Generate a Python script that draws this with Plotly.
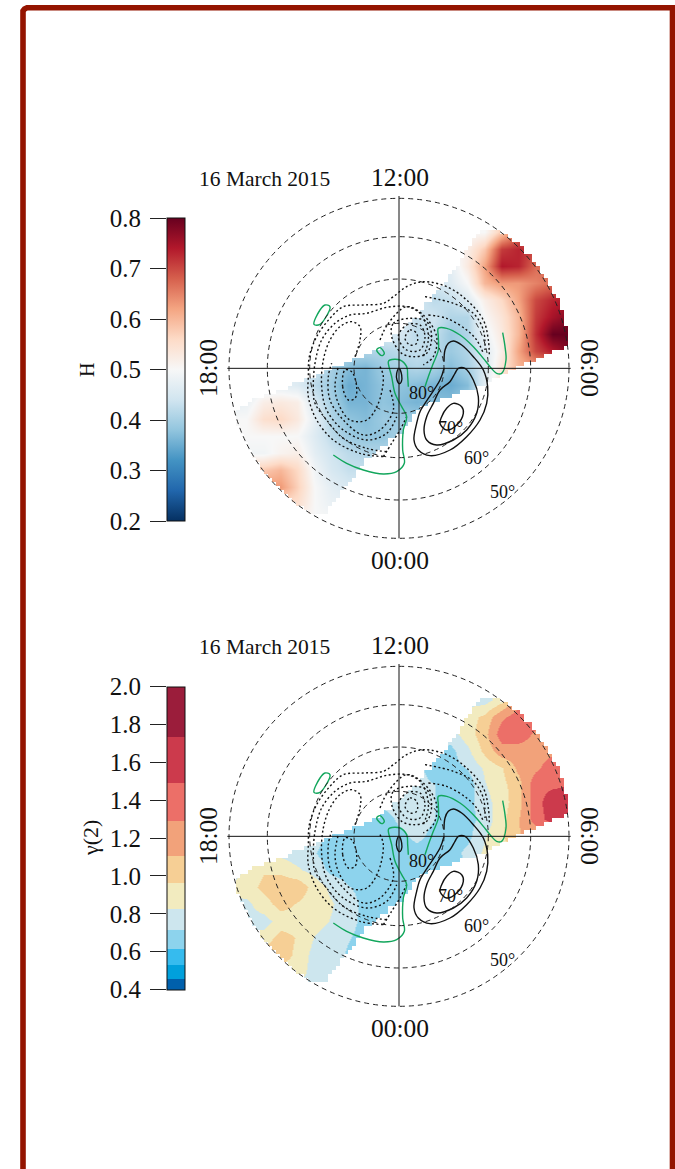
import math
import plotly.graph_objects as go

# ---------- map grid (map units: panel x/y, y downwards) ----------
GRID_X = [27,78,129,180,231,282,333,384,435,486,537,588,639,690,741,792,843,894,945,996,1047]
GRID_Y = [25,76,127,178,229,280,331,382,433,484,535,586,637,688,739,790,841,892,943,994,1045]

H_VALUES = [
[.50,.50,.50,.50,.50,.50,.50,.50,.50,.50,.50,.50,.50,.50,.50,.50,.55,.60,.65,.65,.65],
[.50,.50,.50,.50,.50,.50,.50,.50,.50,.50,.50,.50,.50,.50,.50,.50,.56,.62,.66,.66,.66],
[.50,.50,.50,.50,.50,.50,.50,.50,.50,.50,.50,.50,.50,.50,.50,.50,.58,.66,.68,.68,.68],
[.50,.50,.50,.50,.50,.50,.50,.50,.50,.50,.50,.50,.50,.50,.52,.58,.71,.73,.70,.68,.68],
[.47,.47,.47,.47,.47,.47,.47,.47,.47,.47,.47,.47,.47,.47,.53,.62,.74,.73,.67,.66,.66],
[.45,.45,.45,.45,.45,.45,.45,.45,.45,.45,.45,.45,.44,.46,.50,.60,.63,.63,.65,.67,.67],
[.46,.46,.46,.46,.46,.46,.46,.46,.46,.46,.46,.45,.42,.43,.46,.52,.56,.62,.70,.73,.74],
[.46,.46,.46,.46,.46,.46,.46,.46,.46,.46,.46,.43,.44,.41,.41,.50,.54,.60,.71,.75,.78],
[.45,.45,.45,.45,.45,.45,.45,.45,.45,.45,.45,.42,.43,.39,.41,.48,.53,.60,.72,.80,.80],
[.44,.44,.44,.44,.44,.44,.44,.41,.41,.41,.42,.43,.42,.39,.41,.46,.52,.62,.70,.74,.78],
[.46,.46,.46,.46,.46,.44,.40,.37,.36,.39,.40,.41,.40,.37,.40,.45,.54,.60,.62,.62,.62],
[.47,.47,.47,.47,.46,.42,.39,.35,.36,.38,.38,.37,.36,.35,.37,.47,.54,.56,.56,.56,.56],
[.47,.48,.52,.53,.52,.45,.40,.36,.36,.38,.37,.36,.37,.37,.40,.47,.50,.50,.50,.50,.50],
[.50,.50,.55,.56,.53,.47,.41,.38,.37,.39,.39,.39,.40,.40,.40,.47,.50,.50,.50,.50,.50],
[.50,.50,.50,.50,.50,.46,.42,.39,.38,.38,.40,.41,.41,.41,.41,.47,.50,.50,.50,.50,.50],
[.49,.49,.49,.51,.52,.47,.44,.42,.41,.41,.42,.42,.42,.42,.42,.47,.50,.50,.50,.50,.50],
[.57,.57,.58,.60,.56,.49,.45,.43,.43,.43,.43,.43,.43,.43,.43,.47,.50,.50,.50,.50,.50],
[.63,.63,.63,.63,.57,.50,.47,.45,.45,.45,.45,.45,.45,.45,.45,.47,.50,.50,.50,.50,.50],
[.55,.55,.55,.55,.55,.50,.48,.48,.48,.48,.48,.48,.48,.48,.48,.48,.50,.50,.50,.50,.50],
[.50,.50,.50,.50,.50,.50,.50,.50,.50,.50,.50,.50,.50,.50,.50,.50,.50,.50,.50,.50,.50],
[.50,.50,.50,.50,.50,.50,.50,.50,.50,.50,.50,.50,.50,.50,.50,.50,.50,.50,.50,.50,.50],
]

GAMMA_VALUES = [
[.77,.77,.77,.77,.77,.77,.77,.77,.77,.77,.77,.77,.77,.77,.77,.77,.85,1.1,1.2,1.2,1.2],
[.77,.77,.77,.77,.77,.77,.77,.77,.77,.77,.77,.77,.77,.77,.77,.77,.88,1.15,1.25,1.25,1.25],
[.77,.77,.77,.77,.77,.77,.77,.77,.77,.77,.77,.77,.77,.77,.77,.77,.90,1.20,1.30,1.30,1.30],
[.77,.77,.77,.77,.77,.77,.77,.77,.77,.77,.77,.77,.77,.80,.90,1.00,1.25,1.40,1.40,1.35,1.35],
[.76,.76,.76,.76,.76,.76,.76,.76,.76,.76,.76,.76,.76,.77,.90,1.05,1.40,1.40,1.25,1.20,1.20],
[.74,.74,.74,.74,.74,.74,.74,.74,.74,.74,.74,.74,.72,.68,.80,1.00,1.20,1.20,1.20,1.25,1.25],
[.75,.75,.75,.75,.75,.75,.75,.75,.75,.75,.75,.75,.66,.68,.72,.85,.95,1.15,1.25,1.40,1.40],
[.76,.76,.76,.76,.76,.76,.76,.76,.76,.76,.77,.75,.72,.65,.65,.82,.92,1.05,1.42,1.45,1.50],
[.75,.75,.75,.75,.75,.75,.75,.75,.75,.75,.77,.77,.72,.66,.68,.78,.90,1.05,1.40,1.65,1.65],
[.70,.70,.70,.70,.70,.70,.70,.68,.68,.66,.74,.77,.72,.66,.68,.75,.92,1.10,1.38,1.60,1.60],
[.77,.77,.77,.77,.77,.77,.66,.66,.64,.66,.68,.75,.68,.66,.68,.82,.95,1.10,1.15,1.15,1.15],
[.80,.80,.80,.80,.76,.72,.66,.64,.65,.66,.66,.66,.66,.66,.75,.85,.90,.90,.90,.90,.90],
[.77,.84,.95,.92,.85,.78,.68,.66,.65,.66,.66,.66,.66,.66,.70,.75,.75,.75,.75,.75,.75],
[.84,.90,1.00,1.08,1.06,.90,.80,.72,.68,.66,.66,.68,.68,.68,.70,.75,.75,.75,.75,.75,.75],
[.80,.80,.90,1.02,.95,.88,.84,.76,.68,.66,.70,.70,.70,.70,.70,.75,.75,.75,.75,.75,.75],
[.78,.78,.78,.88,.90,.88,.82,.75,.68,.68,.70,.70,.70,.70,.70,.75,.75,.75,.75,.75,.75],
[.88,.88,.88,1.03,.95,.82,.76,.72,.68,.68,.70,.70,.70,.70,.70,.75,.75,.75,.75,.75,.75],
[1.05,1.05,1.05,1.05,.92,.78,.76,.70,.70,.70,.70,.70,.70,.70,.70,.75,.75,.75,.75,.75,.75],
[.88,.88,.88,.88,.88,.78,.76,.74,.74,.74,.74,.74,.74,.74,.74,.75,.75,.75,.75,.75,.75],
[.80,.80,.80,.80,.80,.78,.76,.76,.76,.76,.76,.76,.76,.76,.76,.76,.76,.76,.76,.76,.76],
[.80,.80,.80,.80,.80,.78,.76,.76,.76,.76,.76,.76,.76,.76,.76,.76,.76,.76,.76,.76,.76],
]

# footprint of the measurements
BAND_X = [790,825,850,880,910,945,970,1000,1025,1035,1045,1045,995,935,880,830,790,720,650,600,580,555,510,470,430,410,365,320,318,265,210,150,110,75,45,45,100,200,265,330,400,470,530,590,615,670,690,720,740,770]
BAND_Y = [115,122,130,155,180,225,260,310,355,400,440,470,490,515,540,568,590,608,635,655,680,720,755,790,815,860,910,965,980,965,920,860,810,750,680,655,630,590,565,535,510,480,430,380,340,280,250,210,170,130]
CELL = 12  # footprint edge stair size, map units

# ---------- contour lines ----------
SOLID = [
 ([672,675,685,700,725,760,790,803,800,780,740,690,630,595,582,590,600,615,660,672],
  [515,480,460,453,465,500,540,590,640,690,740,780,797,780,750,700,665,640,570,535]),
 ([715,735,760,775,770,740,700,650,620,612,620,640,660,690,705,715],
  [535,535,570,620,670,720,750,765,750,720,680,640,600,575,550,535]),
 ([700,725,730,710,680,660,665,680,700],
  [640,650,670,705,720,700,680,655,640]),
 ([537,545,544,538,531,530,537],
  [535,555,575,581,570,550,535]),
]
GREEN = [
 ([282,300,330,315,300,282],[403,403,350,345,360,403]),
 ([470,480,493,485,470],[480,473,490,497,480]),
 ([615,625,640,655,655,655,680,720,760,790,810,830,845,858,855,848],
  [590,560,520,480,440,415,415,435,470,505,530,550,550,510,470,428]),
 ([565,563,560,540,510,505,515,525,545,560,550,548,553,530,490,430,380,340],
  [590,560,530,510,510,515,560,610,650,680,720,780,820,845,852,840,820,795]),
]
DOTTED = [
 ([490,420,340,290,265,265,268,290,330,370,430,490,520,560,610,680,740,790,805,808],
  [800,790,750,690,620,560,500,440,385,350,345,340,320,290,275,290,330,390,450,500]),
 ([500,440,370,320,285,280,285,305,345,390,440,500,560,600,620,625,610],
  [785,775,745,690,640,600,520,450,400,375,370,352,350,370,410,450,500]),
 ([405,420,420,395,360,330,310,305,320,370,440,500,530],
  [500,450,410,395,410,450,510,590,660,720,750,730,680]),
 ([510,520,480,430,370,330,325,335],
  [600,660,720,735,690,630,560,520]),
 ([480,490,475,440,390,355,345,355],
  [530,560,640,690,690,640,590,530]),
 ([375,368,385,405,410,395,375],[540,590,630,625,590,545,540]),
 ([555,570,590,590,570,555],[445,420,430,460,465,445]),
 ([535,560,600,615,600,560,535],[440,405,405,440,480,480,440]),
 ([515,520,570,620,635,620,580,545,515],[440,400,385,395,440,490,500,490,440]),
 ([480,505,560,610,650,640,610],[450,400,350,375,440,500,525]),
 ([625,680,740,770,790],[375,385,420,450,490]),
 ([615,700,760,790,795],[320,340,370,420,480]),
 ([490,515,540,560],[800,760,720,680]),
]

# ---------- colour scales ----------
H_COLOURS = ["#053061","#2166ac","#4393c3","#92c5de","#d1e5f0","#f7f7f7","#fddbc7","#f4a582","#d6604d","#b2182b","#67001f"]
GAMMA_EDGES = [0.4,0.457,0.534,0.617,0.715,0.83,0.963,1.11,1.29,1.495,1.734,2.0]
GAMMA_COLOURS = ["#0060ac","#00a0dc","#36bbee","#8dd3ed","#cde6ee","#f2ebbf","#f6cf95","#f2a27a","#ec6f68","#cc3a4c","#9b1d3b"]
H_TICKS = [0.2,0.3,0.4,0.5,0.6,0.7,0.8]
GAMMA_TICKS = [0.4,0.6,0.8,1.0,1.2,1.4,1.6,1.8,2.0]

DATE = "16 March 2015"
MLT_LABELS = ["12:00","00:00","18:00","06:00"]
LAT_LABELS = ["80°","70°","60°","50°"]
LAT_POS_X = [605,690,768,848]
LAT_POS_Y = [610,715,805,905]
LAT_RADII = [135,268,395,510]
CENTER_X, CENTER_Y = 537, 535

W, H = 675, 1169
SERIF = "Liberation Serif"
px = lambda v: v / W
py = lambda v: 1 - v / H

h_scale = [[i / (len(H_COLOURS) - 1), c] for i, c in enumerate(H_COLOURS)]
g_scale = []
for i, c in enumerate(GAMMA_COLOURS):
    g_scale.append([(GAMMA_EDGES[i] - 0.4) / 1.6, c])
    g_scale.append([(GAMMA_EDGES[i + 1] - 0.4) / 1.6, c])

def stair(xs, ys):
    """Snap the footprint outline to the data-cell stair of the map."""
    ox, oy = [], []
    n = len(xs)
    for i in range(n):
        x0, y0, x1, y1 = xs[i], ys[i], xs[(i + 1) % n], ys[(i + 1) % n]
        steps = max(1, math.ceil(math.hypot(x1 - x0, y1 - y0) / CELL))
        for k in range(steps):
            sx = round((x0 + (x1 - x0) * k / steps) / CELL) * CELL
            sy = round((y0 + (y1 - y0) * k / steps) / CELL) * CELL
            if not ox or (sx, sy) != (ox[-1], oy[-1]):
                ox.append(sx)
                oy.append(sy)
    return ox + ox[:1], oy + oy[:1]

fig = go.Figure()
shapes, annotations = [], []

def text(x, y, s, size, angle=0, anchor="center"):
    annotations.append(dict(xref="paper", yref="paper", x=px(x), y=py(y), text=s, showarrow=False,
                            font=dict(family=SERIF, size=size, color="#111"), textangle=angle,
                            xanchor=anchor, yanchor="middle"))

def panel(idx, z, zmin, zmax, scale, ticks, title, top_offset, cb_top, cb_len):
    xa, ya = ("x", "y") if idx == 1 else ("x2", "y2")
    fig.add_trace(go.Heatmap(x=GRID_X, y=GRID_Y[::-1], z=z[::-1], zmin=zmin, zmax=zmax, colorscale=scale,
                             zsmooth="best", xaxis=xa, yaxis=ya, hoverinfo="skip",
                             colorbar=dict(x=px(167), xanchor="left", xpad=0, y=py(cb_top), yanchor="top", ypad=0,
                                           thickness=18, thicknessmode="pixels", len=cb_len, lenmode="pixels",
                                           outlinecolor="#111", outlinewidth=1, ticks="", showticklabels=False)))
    # white cover outside the measured footprint
    bx, by = stair(BAND_X, BAND_Y)
    mx = [-10, -10, 1090, 1090, -10, None] + bx
    my = [-10, 1085, 1085, -10, -10, None] + by
    fig.add_trace(go.Scatter(x=mx, y=my, mode="lines", fill="toself", fillcolor="white",
                             line=dict(width=0, shape="hv"),
                             xaxis=xa, yaxis=ya, hoverinfo="skip", showlegend=False))
    for cx, cy in DOTTED:
        fig.add_trace(go.Scatter(x=cx, y=cy, mode="lines", line=dict(color="#111", width=1.4, dash="2px,2.5px", shape="spline"),
                                 xaxis=xa, yaxis=ya, hoverinfo="skip", showlegend=False))
    for cx, cy in SOLID:
        fig.add_trace(go.Scatter(x=cx, y=cy, mode="lines", line=dict(color="#111", width=1.4, shape="spline"),
                                 xaxis=xa, yaxis=ya, hoverinfo="skip", showlegend=False))
    for cx, cy in GREEN:
        fig.add_trace(go.Scatter(x=cx, y=cy, mode="lines", line=dict(color="#12a65c", width=1.4, shape="spline"),
                                 xaxis=xa, yaxis=ya, hoverinfo="skip", showlegend=False))
    # tick scale of the colour bar, drawn on its left side
    sx, sy = f"x{idx + 2}", f"y{idx + 2}"
    fig.add_trace(go.Scatter(x=[0] * len(ticks), y=ticks, mode="markers", marker=dict(opacity=0, size=1),
                             xaxis=sx, yaxis=sy, hoverinfo="skip", showlegend=False))
    for r in LAT_RADII:
        shapes.append(dict(type="circle", xref=xa, yref=ya, x0=CENTER_X - r, x1=CENTER_X + r,
                           y0=CENTER_Y - r, y1=CENTER_Y + r, layer="above",
                           line=dict(color="#222", width=1, dash="5px,4px")))
    shapes.append(dict(type="line", xref=xa, yref=ya, x0=22, x1=1052, y0=CENTER_Y, y1=CENTER_Y, layer="above",
                       line=dict(color="#111", width=1)))
    shapes.append(dict(type="line", xref=xa, yref=ya, x0=CENTER_X, x1=CENTER_X, y0=18, y1=1045, layer="above",
                       line=dict(color="#111", width=1)))
    for s, lx, ly in zip(LAT_LABELS, LAT_POS_X, LAT_POS_Y):
        annotations.append(dict(xref=xa, yref=ya, x=lx, y=ly, text=s, showarrow=False,
                                font=dict(family=SERIF, size=18, color="#111")))
    c = 368 + top_offset
    text(399.5, c - 191, MLT_LABELS[0], 25.5)
    text(399.5, c + 192, MLT_LABELS[1], 25.5)
    text(208, c, MLT_LABELS[2], 25.5, angle=-90)
    text(590, c, MLT_LABELS[3], 25.5, angle=90)
    text(264, c - 189, DATE, 21.5)
    text(87 if idx == 1 else 90, c + (2 if idx == 1 else 2), title, 20 if idx == 1 else 22, angle=-90)

panel(1, H_VALUES, 0.2, 0.8, h_scale, H_TICKS, "H", 0, 218, 303)
panel(2, GAMMA_VALUES, 0.4, 2.0, g_scale, GAMMA_TICKS, "γ(2)", 468, 686.5, 303)

# page frame, open at the bottom
fx = [23, 23, 24.5, 27, 672.5, 672.5]
fy = [1175, 11, 9, 7.8, 7.8, 1175]
shapes.append(dict(type="path", xref="paper", yref="paper", layer="above",
                   path="M" + " L".join(f"{px(a):.5f},{py(b):.5f}" for a, b in zip(fx, fy)),
                   line=dict(color="#941400", width=5.6)))

axis = dict(visible=False, fixedrange=True)
scale_axis = dict(fixedrange=True, showgrid=False, zeroline=False, showline=False, ticks="outside", ticklen=16,
                  tickwidth=1, tickcolor="#222", tickformat=".1f", tickmode="array", side="left",
                  ticklabelstandoff=4, tickfont=dict(family=SERIF, size=25, color="#111"))
fig.update_layout(
    width=W, height=H, margin=dict(l=0, r=0, t=0, b=0, autoexpand=False), paper_bgcolor="white", plot_bgcolor="white",
    showlegend=False, shapes=shapes, annotations=annotations,
    xaxis=dict(axis, domain=[px(220), px(580)], range=[0, 1080]),
    yaxis=dict(axis, domain=[py(540), py(190)], range=[1050, 0]),
    xaxis2=dict(axis, domain=[px(220), px(580)], range=[0, 1080]),
    yaxis2=dict(axis, domain=[py(1008), py(658)], range=[1050, 0]),
    xaxis3=dict(axis, domain=[px(167), px(185)], range=[-1, 1], anchor="y3"),
    yaxis3=dict(scale_axis, domain=[py(521), py(218)], range=[0.2, 0.8], tickvals=H_TICKS, anchor="x3"),
    xaxis4=dict(axis, domain=[px(167), px(185)], range=[-1, 1], anchor="y4"),
    yaxis4=dict(scale_axis, domain=[py(989.5), py(686.5)], range=[0.4, 2.0], tickvals=GAMMA_TICKS, anchor="x4"),
)
fig.write_html("out.html", config={"displayModeBar": False},
               post_script="document.body.style.margin='0';document.documentElement.style.overflow='hidden';")
